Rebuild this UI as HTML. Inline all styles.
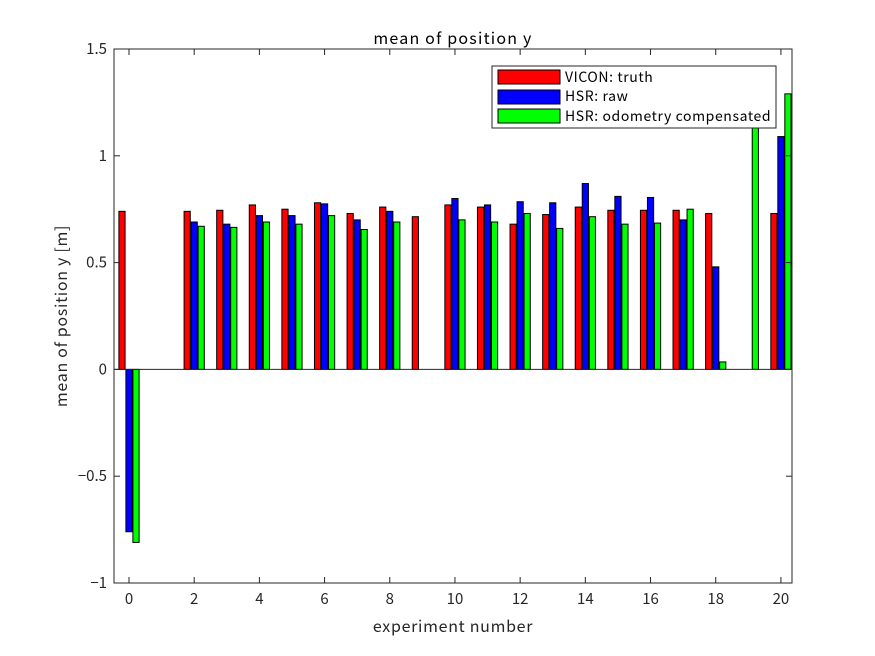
<!DOCTYPE html>
<html><head><meta charset="utf-8"><style>
html,body{margin:0;padding:0;background:#fff;}
svg{display:block;font-family:"Noto Sans CJK JP","Liberation Sans",sans-serif;}
</style></head><body>
<svg id="chart" width="875" height="656" viewBox="0 0 875 656" xmlns="http://www.w3.org/2000/svg">
<rect x="0" y="0" width="875" height="656" fill="#fff"/>
<rect x="114" y="49" width="678" height="534" fill="#fff"/>
<g id="bars"></g>
<g id="axes"></g>
<text x="453" y="44" text-anchor="middle" font-size="16" letter-spacing="1.2" fill="#000">mean of position y</text>
<text x="453" y="632" text-anchor="middle" font-size="16" letter-spacing="0.7" fill="#262626">experiment number</text>
<text transform="translate(67,316) rotate(-90)" text-anchor="middle" font-size="16" letter-spacing="0.7" fill="#262626">mean of position y [m]</text>
<g>
<rect x="492" y="66" width="284" height="62" fill="#fff" stroke="#262626" stroke-width="1"/>
<g><rect x="498" y="70" width="62" height="14" fill="#f00" stroke="#000"/><text x="565" y="82" font-size="14" letter-spacing="0.6" fill="#000">VICON: truth</text></g>
<g><rect x="498" y="90" width="62" height="14" fill="#00f" stroke="#000"/><text x="565" y="101" font-size="14" letter-spacing="0.6" fill="#000">HSR: raw</text></g>
<g><rect x="498" y="109" width="62" height="14" fill="#0f0" stroke="#000"/><text x="565" y="121" font-size="14" letter-spacing="0.6" fill="#000">HSR: odometry compensated</text></g>
</g>
</svg>
<script>
const categories = [0,1,2,3,4,5,6,7,8,9,10,11,12,13,14,15,16,17,18,19,20];
const viconTruth = [0.74,null,0.74,0.745,0.77,0.75,0.78,0.73,0.76,0.715,0.77,0.76,0.68,0.725,0.76,0.745,0.745,0.745,0.73,null,0.73];
const hsrRaw = [-0.76,null,0.69,0.68,0.72,0.72,0.775,0.70,0.74,null,0.80,0.77,0.785,0.78,0.87,0.81,0.805,0.70,0.48,null,1.09];
const hsrOdom = [-0.81,null,0.67,0.665,0.69,0.68,0.72,0.655,0.69,null,0.70,0.69,0.73,0.66,0.715,0.68,0.685,0.75,0.035,1.2,1.29];
const xTicks = [0,2,4,6,8,10,12,14,16,18,20];
const yTicks = [-1,-0.5,0,0.5,1,1.5];
const yTickLabels = ["\u22121","\u22120.5","0","0.5","1","1.5"];

const L=114,R=792,T=49,B=583;
const xMin=-0.46,xMax=20.34,yMin=-1,yMax=1.5;
function xs(v){return L+(v-xMin)/(xMax-xMin)*(R-L);}
function ys(v){return B-(v-yMin)/(yMax-yMin)*(B-T);}
const NS="http://www.w3.org/2000/svg";
const bars=document.getElementById('bars');
const series=[{d:viconTruth,c:'#f00',o:-0.215,n:'vicon'},{d:hsrRaw,c:'#00f',o:0,n:'raw'},{d:hsrOdom,c:'#0f0',o:0.215,n:'odom'}];
const bw=0.19;
series.forEach(s=>{
  s.d.forEach((v,i)=>{
    if(v===null)return;
    const cx=categories[i]+s.o;
    const x0=xs(cx-bw/2),x1=xs(cx+bw/2);
    const y0=ys(Math.max(v,0)),y1=ys(Math.min(v,0));
    const r=document.createElementNS(NS,'rect');
    r.setAttribute('x',x0);r.setAttribute('y',y0);
    r.setAttribute('width',x1-x0);r.setAttribute('height',y1-y0);
    r.setAttribute('fill',s.c);r.setAttribute('stroke','#000');r.setAttribute('stroke-width','1');
    
    
    bars.appendChild(r);
  });
});
const ax=document.getElementById('axes');
function line(x1,y1,x2,y2,name){
  const l=document.createElementNS(NS,'line');
  l.setAttribute('x1',x1);l.setAttribute('y1',y1);l.setAttribute('x2',x2);l.setAttribute('y2',y2);
  l.setAttribute('stroke','#262626');l.setAttribute('stroke-width','1');
  
  
  ax.appendChild(l);
}
line(L,ys(0),R,ys(0),'zero-baseline');
const fr=document.createElementNS(NS,'rect');
fr.setAttribute('x',L);fr.setAttribute('y',T);fr.setAttribute('width',R-L);fr.setAttribute('height',B-T);
fr.setAttribute('fill','none');fr.setAttribute('stroke','#262626');


ax.appendChild(fr);
function txt(x,y,s,anchor,name){
  const t=document.createElementNS(NS,'text');
  t.setAttribute('x',x);t.setAttribute('y',y);t.setAttribute('text-anchor',anchor);
  t.setAttribute('font-size','15');t.setAttribute('fill','#262626');
  t.textContent=s;
  
  
  ax.appendChild(t);
}
xTicks.forEach(v=>{
  const x=xs(v);
  line(x,B,x,B-6,'x-tick');line(x,T,x,T+6,'x-tick-top');
  txt(x,B+21,String(v),'middle','x-tick-label');
});
yTicks.forEach((v,i)=>{
  const y=ys(v);
  line(L,y,L+6,y,'y-tick');line(R,y,R-6,y,'y-tick-right');
  txt(L-7,y+5,yTickLabels[i],'end','y-tick-label');
});
</script>
</body></html>
